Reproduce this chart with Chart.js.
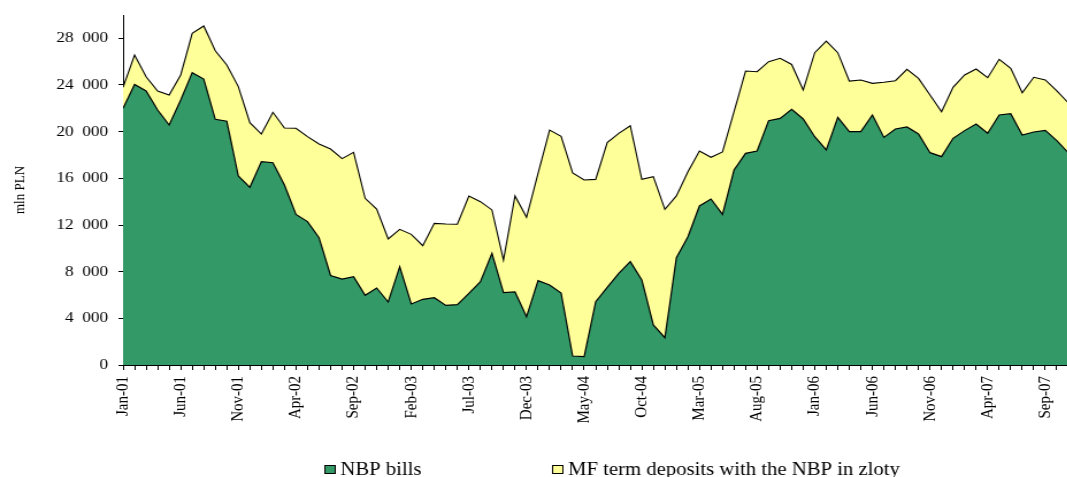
<!DOCTYPE html>
<html>
<head>
<meta charset="utf-8">
<script src="https://cdn.jsdelivr.net/npm/chart.js@4.4.0/dist/chart.umd.min.js"></script>
<style>
  html, body { margin: 0; padding: 0; background: #fff; overflow: hidden; }
  /* the original picture is stretched sideways, so draw narrower and stretch */
  #wrap { width: 928px; height: 477px; transform: scaleX(1.15); transform-origin: 0 0; }
</style>
</head>
<body>
<div id="wrap"><canvas id="myChart" width="928" height="477"></canvas></div>
<script>
const monthNames = ['Jan','Feb','Mar','Apr','May','Jun','Jul','Aug','Sep','Oct','Nov','Dec']
const years = ['01','02','03','04','05','06','07']
const yTicks = [0, 4000, 8000, 12000, 16000, 20000, 24000, 28000]

// NBP bills, mln PLN, Jan-01 .. Nov-07
const nbpBills = [
  22000, 24050, 23490, 21860, 20570, 22710, 25060, 24510, 21060, 20890,
  16200, 15230, 17430, 17340, 15430, 12910, 12290, 10910, 7670, 7370,
  7570, 5970, 6600, 5400, 8430, 5230, 5630, 5770, 5110, 5170,
  6140, 7140, 9570, 6200, 6260, 4140, 7230, 6860, 6170, 770,
  710, 5430, 6660, 7860, 8860, 7290, 3430, 2340, 9200, 11000,
  13630, 14230, 12910, 16710, 18140, 18340, 20940, 21140, 21910, 21090,
  19570, 18430, 21230, 20000, 20000, 21430, 19510, 20230, 20400, 19800,
  18200, 17860, 19430, 20090, 20660, 19860, 21430, 21540, 19710, 19970,
  20110, 19240, 18180
]

// MF term deposits with the NBP in zloty, mln PLN
const mfDeposits = [
  1800, 2520, 1220, 1630, 2570, 2150, 3370, 4550, 5880, 4820,
  7660, 5540, 2370, 4320, 4880, 7380, 7280, 8030, 10840, 10320,
  10660, 8320, 6770, 5400, 3200, 5970, 4600, 6370, 6980, 6890,
  8350, 6860, 3720, 2800, 8230, 8520, 9200, 13280, 13430, 15700,
  15150, 10480, 12400, 12000, 11650, 8620, 12710, 11000, 5290, 5570,
  4710, 3570, 5350, 5000, 7060, 6800, 5060, 5150, 3850, 2480,
  7200, 9340, 5540, 4340, 4430, 2710, 4720, 4140, 4940, 4770,
  4940, 3850, 4370, 4770, 4710, 4770, 4770, 3890, 3630, 4690,
  4320, 4260, 4280
]

var months = []
years.forEach(y => monthNames.forEach(m => months.push(m + '-' + y)))

const serif = "'Liberation Serif', 'Times New Roman', serif"

// legend drawn under the chart like the original one
const bottomLegend = {
  id: 'bottomLegend',
  afterDraw(chart) {
    const c = chart.ctx
    const textX = [296, 494]
    c.save()
    c.font = '18px ' + serif
    c.textBaseline = 'alphabetic'
    chart.data.datasets.forEach((ds, i) => {
      c.fillStyle = ds.backgroundColor
      c.fillRect(textX[i] - 14, 465, 10, 9)
      c.strokeStyle = '#000'
      c.lineWidth = 1
      c.strokeRect(textX[i] - 14 + 0.5, 465.5, 9, 8)
      c.fillStyle = '#000'
      c.fillText(ds.label, textX[i], 475)
    })
    c.restore()
  }
}

const ctx = document.getElementById('myChart').getContext('2d')
const myChart = new Chart(ctx, {
  type: 'line',
  data: {
    datasets: [{
      label: 'NBP bills',
      data: nbpBills.map((v, i) => ({x: i, y: v})),
      backgroundColor: '#339966',
      borderColor: '#000',
      borderWidth: 1.2,
      fill: 'origin',
      pointRadius: 0,
      tension: 0
    }, {
      label: 'MF term deposits with the NBP in zloty',
      data: mfDeposits.map((v, i) => ({x: i, y: v})),
      backgroundColor: '#ffff99',
      borderColor: '#000',
      borderWidth: 1.1,
      fill: '-1',
      pointRadius: 0,
      tension: 0
    }]
  },
  options: {
    responsive: false,
    animation: false,
    layout: { padding: { left: 0, right: 0, top: 15, bottom: 0 } },
    plugins: { legend: { display: false }, tooltip: { enabled: false } },
    scales: {
      x: {
        type: 'linear',
        min: 0,
        max: 81.9,
        grid: { drawOnChartArea: false, color: '#000', tickLength: 5 },
        border: { color: '#000' },
        ticks: {
          stepSize: 1,
          autoSkip: false,
          includeBounds: false,
          maxRotation: 90,
          minRotation: 90,
          padding: 6,
          color: '#000',
          font: { family: serif, size: 15 },
          callback: v => (v % 5 === 0 ? months[v] : '')
        },
        afterFit: s => { s.height = 112; s.paddingLeft = 0; s.paddingRight = 0 }
      },
      y: {
        stacked: true,
        min: 0,
        max: 30000,
        grid: { drawOnChartArea: false, color: '#000', tickLength: 4 },
        border: { color: '#000' },
        ticks: {
          padding: 9,
          autoSkip: false,
          color: '#000',
          font: { family: serif, size: 15 },
          callback: v => (v >= 1000 ? Math.floor(v / 1000) + '\u2007' + String(v % 1000).padStart(3, '0') : String(v))
        },
        afterBuildTicks: s => { s.ticks = yTicks.map(v => ({ value: v })) },
        title: {
          display: true,
          text: 'mln PLN',
          color: '#000',
          font: { family: serif, size: 13 },
          padding: { top: 10, bottom: 0 }
        },
        afterFit: s => { s.width = 107; s.paddingTop = 0; s.paddingBottom = 0 }
      }
    }
  },
  plugins: [bottomLegend]
})
</script>
</body>
</html>
